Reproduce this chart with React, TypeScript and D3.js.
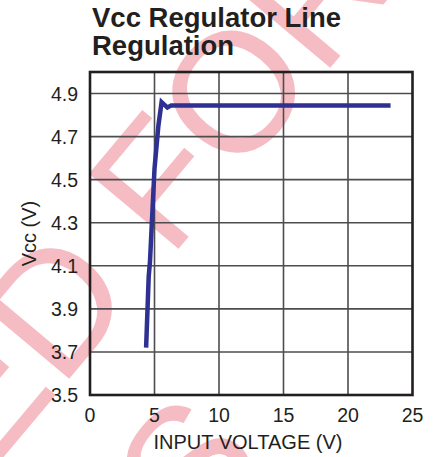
import React from 'react';
import * as d3 from 'd3';

// curve: input voltage (V) vs Vcc (V)
const inputVoltage = [4.35, 4.55, 4.65, 5.0, 5.3, 5.55, 6.0, 6.3, 23.3];
const vccVoltage = [3.72, 4.05, 4.12, 4.55, 4.75, 4.86, 4.835, 4.845, 4.845];

const xTicks = [0, 5, 10, 15, 20, 25];
const yTicks = [3.5, 3.7, 3.9, 4.1, 4.3, 4.5, 4.7, 4.9];
const yGrid = [3.7, 3.9, 4.1, 4.3, 4.5, 4.7, 4.9];

const W = 438;
const H = 457;
const plot = { left: 90, right: 412.5, top: 72, bottom: 395 };

const FONT = 'Liberation Sans, Arial, Helvetica, sans-serif';
const INK = '#231f20';
const PINK = '#f6bcc3';

export default function App() {
  const x = d3.scaleLinear().domain([0, 25]).range([plot.left, plot.right]);
  const y = d3.scaleLinear().domain([3.5, 5.0]).range([plot.bottom, plot.top]);

  const pts = inputVoltage.map((v, i) => [v, vccVoltage[i]] as [number, number]);
  const line = d3.line<[number, number]>().x(d => x(d[0])).y(d => y(d[1]));

  // watermark, rotated; placed from the centre of the big "O"
  const ang = -50;
  const rad = (ang * Math.PI) / 180;
  const u = [Math.cos(rad), Math.sin(rad)];
  const n = [-Math.sin(rad), Math.cos(rad)];
  const fs = 170;
  const at = (du: number, dn: number) => [232 + du * u[0] + dn * n[0], 90 + du * u[1] + dn * n[1]];
  // end of "RECOMMENDED" on line 1 (O half width + F + space before it)
  const p1 = at(-66 - 104 - 47, 61);
  const p1b = at(-66 - 104, 61);
  const p2 = at(-260, 205 + 61);

  return (
    <div style={{ position: 'absolute', left: 0, top: 0 }}>
      <svg width={W} height={H} style={{ display: 'block', background: '#fff' }}>
        {/* watermark behind everything */}
        <g fill={PINK} fontFamily={FONT} fontSize={fs}>
          <text transform={`translate(${p1[0]},${p1[1]}) rotate(${ang})`} textAnchor="end">NOT RECOMMENDED</text>
          <text transform={`translate(${p1b[0]},${p1b[1]}) rotate(${ang})`}>FOR NEW DESIGNS</text>
          <text transform={`translate(${p2[0]},${p2[1]}) rotate(${ang})`} textAnchor="end">FOR NEW DESIGNS</text>
        </g>

        {/* title */}
        <g fontFamily={FONT} fontWeight="bold" fontSize={27.5} fill={INK}>
          <text x={92} y={27}>Vcc Regulator Line</text>
          <text x={92} y={55}>Regulation</text>
        </g>

        {/* grid */}
        <g stroke="#4d4d4f" strokeWidth={1.6}>
          {xTicks.slice(1, -1).map(t => (
            <line key={'gx' + t} x1={x(t)} x2={x(t)} y1={plot.top} y2={plot.bottom} />
          ))}
          {yGrid.map(t => (
            <line key={'gy' + t} x1={plot.left} x2={plot.right} y1={y(t)} y2={y(t)} />
          ))}
        </g>

        {/* data */}
        <path d={line(pts) || ''} fill="none" stroke="#2e3192" strokeWidth={4.5} strokeLinejoin="miter" />

        {/* frame */}
        <rect
          x={plot.left}
          y={plot.top}
          width={plot.right - plot.left}
          height={plot.bottom - plot.top}
          fill="none"
          stroke={INK}
          strokeWidth={2.6}
        />

        {/* tick labels */}
        <g fontFamily={FONT} fontSize={19.5} fill={INK}>
          {yTicks.map(t => (
            <text key={'ty' + t} x={78} y={y(t) + 7} textAnchor="end">{t.toFixed(1)}</text>
          ))}
          {xTicks.map(t => (
            <text key={'tx' + t} x={x(t)} y={422} textAnchor="middle">{t}</text>
          ))}
        </g>

        {/* axis titles */}
        <g fontFamily={FONT} fontSize={20} fill={INK}>
          <text x={248} y={449} textAnchor="middle">INPUT VOLTAGE (V)</text>
          <text transform={`translate(36,${(plot.top + plot.bottom) / 2}) rotate(-90)`} textAnchor="middle">Vcc (V)</text>
        </g>
      </svg>
    </div>
  );
}
